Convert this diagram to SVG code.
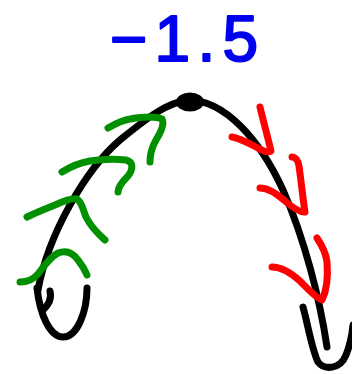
<svg xmlns="http://www.w3.org/2000/svg" width="352" height="374" viewBox="0 0 352 374">
<style>
.k{fill:none;stroke:#000;stroke-width:7;stroke-linecap:round;stroke-linejoin:round}
.r{fill:none;stroke:#ff0000;stroke-width:7;stroke-linecap:round;stroke-linejoin:round}
.g{fill:none;stroke:#009000;stroke-width:7;stroke-linecap:round;stroke-linejoin:round}
.t{font-family:"Liberation Sans",Arial,sans-serif;font-size:64px;fill:#0000f0;stroke:#0000f0;stroke-width:2;stroke-linejoin:round}
</style>
<rect width="352" height="374" fill="#fff"/>
<text class="t" x="110" y="61" textLength="148" lengthAdjust="spacing">−1.5</text>
<g id="curve">
<path class="k" d="M38,290 C48,235 85,170 120,140 C145,120 165,103 188,100"/>
<path class="k" d="M188,100 C225,100 260,140 283,190 C305,240 320,300 327,347"/>
<path class="k" d="M37,288 C40,315 50,337 63,337 C78,337 87,310 87,288"/>
<path class="k" d="M50,291 C52,300 48,305 43,310"/>
<path class="k" d="M303,307 C308,325 312,350 318,362 C324,370 340,370 346,355 C350,345 352,335 353,325"/>
<ellipse cx="190" cy="102" rx="14" ry="9.5" fill="#000"/>
</g>
<g id="green-arrows">
<path class="g" d="M108,128 C115,124 122,120 130,119 C142,117 155,116 162,119 C165,124 161,132 156,140 C152,147 150,155 150,162"/>
<path class="g" d="M62,172 C70,167 78,163 90,161 C102,159 118,159 126,160 C134,162 133,170 128,176 C122,182 118,187 118,192"/>
<path class="g" d="M27,217 C35,213 45,209 55,205 C64,201 72,198 77,199 C82,202 83,210 86,217 C90,225 97,233 105,240"/>
<path class="g" d="M20,282 C28,282 33,280 38,274 C44,266 50,257 58,253 C66,250 73,253 78,260 C82,265 85,270 87,275"/>
</g>
<g id="red-arrows">
<path class="r" d="M232,137 C240,138 250,144 258,148 C263,151 268,153 271,151 C268,138 263,120 260,107"/>
<path class="r" d="M260,188 C268,188 276,193 285,201 C292,207 300,213 305,212 C303,200 301,180 299,166 C298,160 295,157 292,157"/>
<path class="r" d="M272,267 C280,267 290,272 300,281 C308,289 316,298 322,300 C327,290 328,275 327,262 C326,252 321,244 317,238"/>
</g>
</svg>
